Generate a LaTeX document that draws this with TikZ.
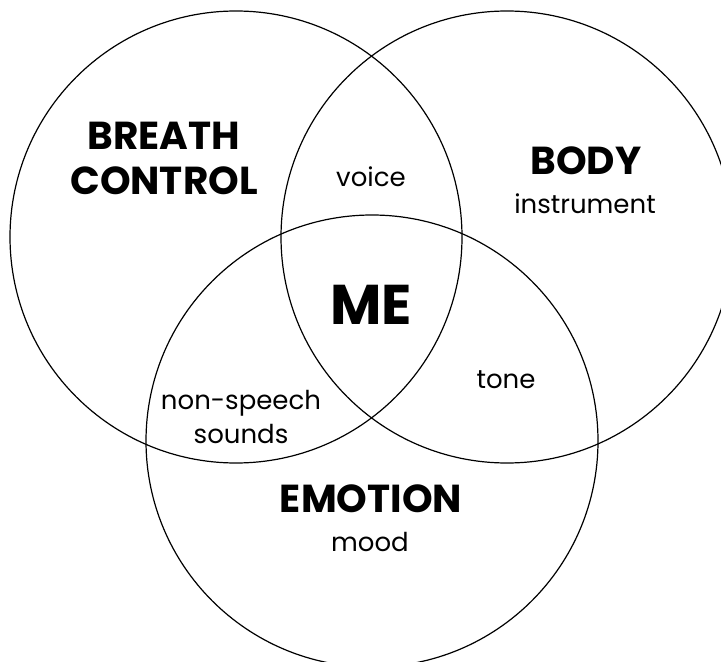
\documentclass[tikz,border=0pt]{standalone}
\usepackage{fontspec}
\setmainfont{Poppins}
\usepackage{tikz}

\begin{document}
\begin{tikzpicture}[
    x=0.5pt, y=-0.5pt,
    set/.style={draw, circle, line width=0.6pt, minimum size=226pt, inner sep=0pt},
    title/.style={font=\fontsize{19.5}{22.5}\selectfont\bfseries, align=center, inner sep=0pt},
    core/.style={font=\fontsize{28}{30}\selectfont\bfseries, inner sep=0pt},
    word/.style={font=\fontsize{13}{17}\selectfont, align=center, inner sep=0pt}
]
\useasboundingbox (0,0) rectangle (721,662);

\node[set] (breath) at (236, 237) {};
\node[set] (body) at (507, 237) {};
\node[set] (emotion) at (372, 441) {};

\node[title] (breathname) at (164, 158) {BREATH\\CONTROL};
\node[title] (bodyname) at (586, 161) {BODY};
\node[word] (bodyword) at (585, 204) {instrument};
\node[title] (emotionname) at (371, 499) {EMOTION};
\node[word] (emotionword) at (370, 542) {mood};

\node[word] (voice) at (371, 177) {voice};
\node[word] (tone) at (506, 380) {tone};
\node[word] (sounds) at (241, 417) {non-speech\\sounds};
\node[core] (me) at (371, 305) {ME};

\end{tikzpicture}
\end{document}
